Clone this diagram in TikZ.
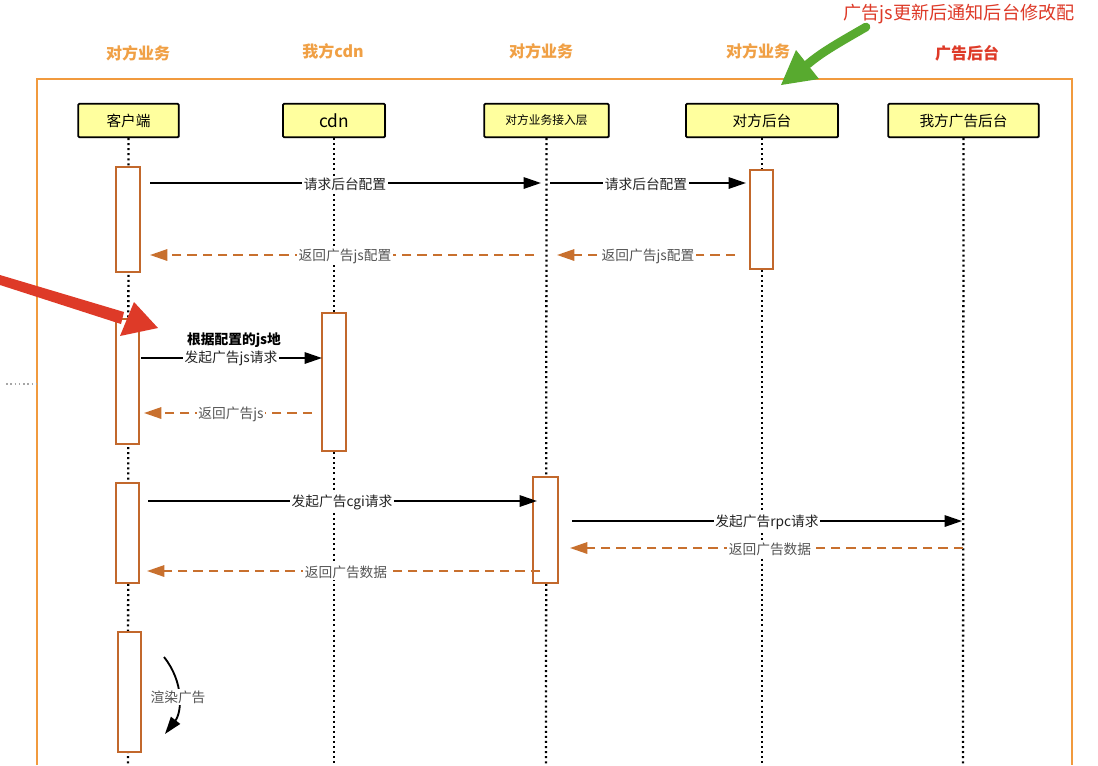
\documentclass[tikz,border=0pt]{standalone}
\usepackage{fontspec}
\setmainfont{Noto Sans CJK SC}
\usetikzlibrary{arrows.meta,shadows}
\definecolor{frameor}{HTML}{F19A3E}
\definecolor{toplab}{HTML}{F0A045}
\definecolor{actor}{HTML}{C2682C}
\definecolor{retcol}{HTML}{C8702E}
\definecolor{hdrfill}{HTML}{FFFF9E}
\definecolor{redmark}{HTML}{DE3A28}
\definecolor{greenmark}{HTML}{58AA2F}
\definecolor{txtdark}{HTML}{222222}
\definecolor{txtgray}{HTML}{555555}
\tikzset{
  hdr/.style={draw=black, line width=1.3pt, rounded corners=0.8pt, fill=hdrfill, minimum height=25pt, inner sep=0pt,
    font=\fontsize{11pt}{13pt}\selectfont, drop shadow={shadow xshift=0.8pt, shadow yshift=-0.8pt, opacity=0.35}},
  toplbl/.style={text=toplab, font=\fontsize{12pt}{14pt}\selectfont\bfseries},
  lifeline/.style={line width=1.7pt, dash pattern=on 1.5pt off 2.3pt, black},
  actbox/.style={draw=actor, line width=1.5pt, fill=white},
  req/.style={line width=1.5pt, black, -{Triangle[length=13pt,width=8.5pt]}},
  ret/.style={line width=1.6pt, retcol, dash pattern=on 7pt off 4.5pt, -{Triangle[length=13pt,width=8.5pt]}},
  reqlbl/.style={fill=white, inner sep=1pt, text=txtdark, font=\fontsize{10.3pt}{12pt}\selectfont},
  retlbl/.style={fill=white, inner sep=1pt, text=txtgray, font=\fontsize{10.3pt}{12pt}\selectfont},
}
\begin{document}
\begin{tikzpicture}[x=0.75pt,y=-0.75pt]
\useasboundingbox (0,0) rectangle (1098,765);
\fill[white] (0,0) rectangle (1098,765);

% frame
\draw[frameor, line width=1.5pt] (37,765) -- (37,79) -- (1072,79) -- (1072,765);
\draw[gray!70, line width=1.2pt, dash pattern=on 1.2pt off 2pt] (6,384) -- (36,384);

% top labels
\node[toplbl] (t1) at (138,53) {对方业务};
\node[toplbl] (t2) at (333,51) {我方cdn};
\node[toplbl] (t3) at (541,51) {对方业务};
\node[toplbl] (t4) at (758,51) {对方业务};
\node[toplbl, text=redmark] (t5) at (967,53) {广告后台};
\node[text=redmark, font=\fontsize{13.6pt}{15pt}\selectfont] (note) at (959,14) {广告js更新后通知后台修改配};

% headers
\node[hdr, minimum width=75.5pt] (h1) at (128.5,120.5) {客户端};
\node[hdr, minimum width=76.5pt, font=\fontsize{13pt}{15pt}\selectfont] (h2) at (334,120.5) {cdn};
\node[hdr, minimum width=93.5pt, font=\fontsize{8.8pt}{10pt}\selectfont] (h3) at (546.5,120.5) {对方业务接入层};
\node[hdr, minimum width=114pt] (h4) at (762,120.5) {对方后台};
\node[hdr, minimum width=113pt] (h5) at (963.5,120.5) {我方广告后台};

% lifelines
\coordinate (e1) at (128,765);
\coordinate (e2) at (334,765);
\coordinate (e3) at (546,765);
\coordinate (e4) at (762,765);
\coordinate (e5) at (963,765);
\draw[lifeline] (h1.south) -- (e1);
\draw[lifeline] (h2.south) -- (e2);
\draw[lifeline] (h3.south) -- (e3);
\draw[lifeline] (h4.south) -- (e4);
\draw[lifeline] (h5.south) -- (e5);

% activation boxes
\draw[actbox] (116,167) rectangle (140,272);
\draw[actbox] (750,170) rectangle (773,269);
\draw[actbox] (116,319) rectangle (139,444);
\draw[actbox] (322,313) rectangle (346,451);
\draw[actbox] (116,483) rectangle (139,583);
\draw[actbox] (533,477) rectangle (558,583);
\draw[actbox] (118,632) rectangle (141,752);

% message endpoints
\coordinate (m1a) at (150,183); \coordinate (m1b) at (541,183);
\coordinate (m2a) at (550,183); \coordinate (m2b) at (746,183);
\coordinate (m3a) at (534,255); \coordinate (m3b) at (150,255);
\coordinate (m4a) at (735,255); \coordinate (m4b) at (557,255);
\coordinate (m5a) at (141,358); \coordinate (m5b) at (322,358);
\coordinate (m6a) at (312,413); \coordinate (m6b) at (144,413);
\coordinate (m7a) at (148,501); \coordinate (m7b) at (537,501);
\coordinate (m8a) at (572,521); \coordinate (m8b) at (962,521);
\coordinate (m9a) at (963,548); \coordinate (m9b) at (570,548);
\coordinate (m10a) at (540,571); \coordinate (m10b) at (147,571);

\draw[req] (m1a) -- (m1b);
\node[reqlbl] (l1) at (345,184) {请求后台配置};
\draw[req] (m2a) -- (m2b);
\node[reqlbl] (l2) at (646,184) {请求后台配置};
\draw[ret] (m3a) -- (m3b);
\node[retlbl] (l3) at (345,256) {返回广告js配置};
\draw[ret] (m4a) -- (m4b);
\node[retlbl] (l4) at (648,256) {返回广告js配置};
\draw[req] (m5a) -- (m5b);
\node[reqlbl] (l5) at (231,358) {发起广告js请求};
\node[text=black, font=\fontsize{10.3pt}{12pt}\selectfont\bfseries] (l5b) at (234,340) {根据配置的js地};
\draw[ret] (m6a) -- (m6b);
\node[retlbl] (l6) at (231,414) {返回广告js};
\draw[req] (m7a) -- (m7b);
\node[reqlbl] (l7) at (342,502) {发起广告cgi请求};
\draw[req] (m8a) -- (m8b);
\node[reqlbl] (l8) at (767,522) {发起广告rpc请求};
\draw[ret] (m9a) -- (m9b);
\node[retlbl] (l9) at (770,549) {返回广告数据};
\draw[ret] (m10a) -- (m10b);
\node[retlbl] (l10) at (346,572) {返回广告数据};

% self call
\coordinate (s1) at (164,657);
\coordinate (s2) at (165,734);
\draw[line width=1.4pt, black, -{Triangle[length=13pt,width=8.5pt]}] (s1) .. controls (184,682) and (182,712) .. (s2);
\node[retlbl] (l11) at (178,697) {渲染广告};

% red annotation arrow
\fill[redmark] (0,275) -- (124,312) -- (121,324) -- (0,285) -- cycle;
\fill[redmark] (120,336) -- (134,302) -- (158,328) -- cycle;

% green annotation arrow
\draw[greenmark, line width=6.5pt, line cap=round] (866,27) .. controls (840,42) and (822,52) .. (808,64);
\fill[greenmark] (796,50) -- (819,79) -- (781,85) -- cycle;
\end{tikzpicture}
\end{document}
